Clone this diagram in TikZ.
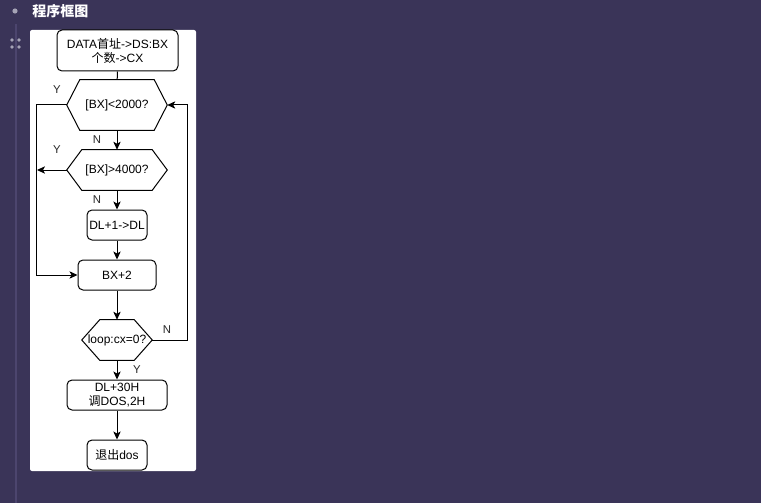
\documentclass[tikz,border=0pt]{standalone}
\usepackage{fontspec}
\setmainfont{Liberation Sans}
\newfontfamily\cjk{Noto Sans CJK SC}
\usetikzlibrary{arrows.meta}
\definecolor{pagebg}{RGB}{58,52,88}
\definecolor{railcol}{RGB}{76,69,110}
\definecolor{dotcol}{RGB}{165,163,182}
\tikzstyle{process} = [draw, line width=0.75pt, rounded corners=3.75pt, align=center, inner sep=1pt, font=\fontsize{9}{10.5}\selectfont]
\tikzstyle{decision} = [inner sep=1pt, align=center, font=\fontsize{9}{10.5}\selectfont]
\tikzstyle{arrow} = [draw, -{Stealth[length=6pt, width=5.5pt, inset=1.5pt]}, line width=0.75pt]
\tikzstyle{line} = [draw, line width=0.75pt]
\tikzstyle{branch} = [text=black!85, inner sep=0pt, font=\fontsize{8.5}{10}\selectfont]
\newcommand{\hexoutline}[2]{\draw[line] (#1.west) -- ([xshift=#2]#1.north west) -- ([xshift=-#2]#1.north east) -- (#1.east) -- ([xshift=-#2]#1.south east) -- ([xshift=#2]#1.south west) -- cycle;}

\begin{document}
\begin{tikzpicture}[x=0.75pt, y=-0.75pt]
\fill[pagebg] (0,0) rectangle (761,503);
\useasboundingbox (0,0) rectangle (761,503);

% page decoration
\fill[dotcol] (15,11) circle (2.6);
\node[anchor=west, text=white, inner sep=0pt, font=\cjk\bfseries\fontsize{10.5}{12}\selectfont] (title) at (32,11) {程序框图};
\fill[railcol] (15,24) rectangle (17,503);
\foreach \dx in {12,19} {
  \foreach \dy in {40,47} {
    \fill[dotcol] (\dx,\dy) circle (1.8);
  }
}
\fill[white, rounded corners=1.5pt] (30,30) rectangle (196,471);

% steps
\node[process, minimum width=90.75pt, minimum height=30.75pt] at (117.5,50.5) (init) {DATA{\cjk 首址}->DS:BX\\{\cjk 个数}->CX};
\node[decision, minimum width=75pt, minimum height=37.5pt] at (117,105) (low) {[BX]<2000?};
\hexoutline{low}{9.75pt}
\node[decision, minimum width=75pt, minimum height=30pt] at (117,170) (high) {[BX]>4000?};
\hexoutline{high}{11.25pt}
\node[process, minimum width=45pt, minimum height=22.5pt] at (117,225) (count) {DL+1->DL};
\node[process, minimum width=58.5pt, minimum height=22.5pt] at (117,275) (next) {BX+2};
\node[decision, minimum width=52.5pt, minimum height=30pt] at (117,340) (loop) {loop:cx=0?};
\hexoutline{loop}{13.5pt}
\node[process, minimum width=75pt, minimum height=22.5pt] at (117,395) (show) {DL+30H\\{\cjk 调}DOS,2H};
\node[process, minimum width=45pt, minimum height=22.5pt] at (117,455) (quit) {{\cjk 退出}dos};

% connectors
\coordinate (skip) at (37,170);
\path[line] (init) -- (low);
\path[arrow] (low) -- (high);
\path[arrow] (low.west) -- ++(-30,0) |- (next.west);
\path[arrow] (high.west) -- (skip);
\path[arrow] (high) -- (count);
\path[arrow] (count) -- (next);
\path[arrow] (next) -- (loop);
\path[arrow] (loop.east) -- ++(35,0) |- (low.east);
\path[arrow] (loop) -- (show);
\path[arrow] (show) -- (quit);

% branch labels
\node[branch] at (57,90) (lowy) {Y};
\node[branch] at (97,140) (lown) {N};
\node[branch] at (57,150) (highy) {Y};
\node[branch] at (97,200) (highn) {N};
\node[branch] at (167,330) (loopn) {N};
\node[branch] at (137,370) (loopy) {Y};
\end{tikzpicture}
\end{document}
